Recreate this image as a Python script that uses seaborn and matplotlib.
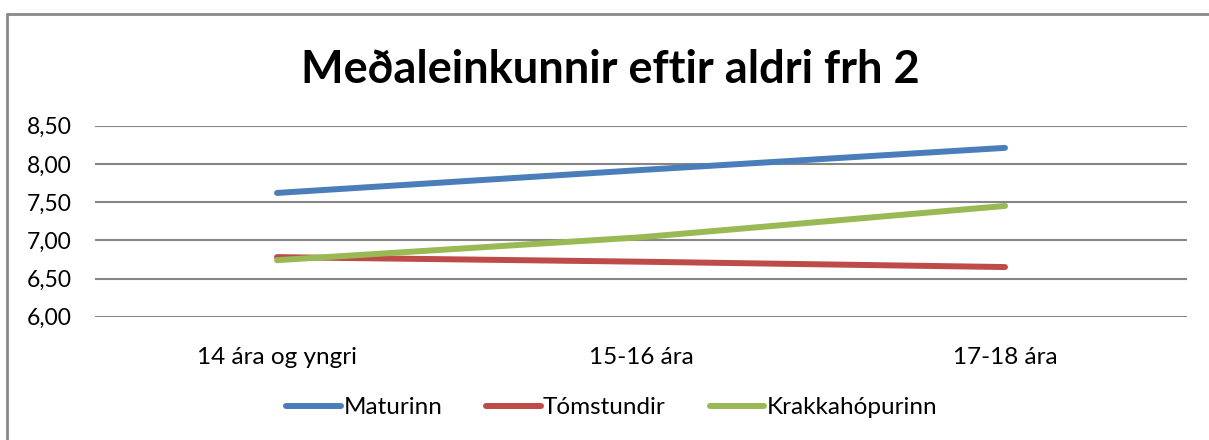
import numpy as np
import pandas as pd
import matplotlib
matplotlib.use("Agg")
import matplotlib.pyplot as plt
import seaborn as sns
from matplotlib.lines import Line2D
from matplotlib.ticker import FuncFormatter

# Data
CATEGORIES = ["14 ára og yngri", "15-16 ára", "17-18 ára"]
MATURINN = [7.62, 7.92, 8.21]
TOMSTUNDIR = [6.78, 6.72, 6.65]
KRAKKAHOPURINN = [6.74, 7.04, 7.45]
SERIES_NAMES = ["Maturinn", "Tómstundir", "Krakkahópurinn"]
SERIES_COLORS = ["#4A7EBB", "#BE4B48", "#98B954"]
Y_TICKS = [6.0, 6.5, 7.0, 7.5, 8.0, 8.5]

df = pd.DataFrame({
    "aldur": CATEGORIES * 3,
    "einkunn": MATURINN + TOMSTUNDIR + KRAKKAHOPURINN,
    "hopur": [n for n in SERIES_NAMES for _ in CATEGORIES],
})

sns.set_theme(style="white")
plt.rcParams["font.family"] = ["Lato", "DejaVu Sans"]
plt.rcParams["text.color"] = "black"

fig = plt.figure(figsize=(12.09, 4.40), dpi=100)
ax = fig.add_axes([0.0786, 0.2802, 0.9032, 0.4341])

sns.lineplot(
    data=df, x="aldur", y="einkunn", hue="hopur",
    palette=SERIES_COLORS, hue_order=SERIES_NAMES,
    linewidth=4.3, sort=False, ax=ax, legend=True,
)
for line in ax.get_lines():
    line.set_solid_capstyle("round")

ax.set_xlim(-0.5, 2.5)
ax.set_ylim(6.0, 8.5)
ax.set_yticks(Y_TICKS)
ax.yaxis.set_major_formatter(FuncFormatter(lambda v, _: f"{v:.2f}".replace(".", ",")))
ax.grid(axis="y", color="#868686", linewidth=1.5)
ax.set_axisbelow(True)
for s in ax.spines.values():
    s.set_visible(False)
ax.tick_params(axis="both", length=0, colors="black")
ax.tick_params(axis="y", pad=17, labelsize=16.5)
ax.tick_params(axis="x", pad=22, labelsize=17.5)
ax.set_xlabel("")
ax.set_ylabel("")

fig.text(0.505, 0.84, "Meðaleinkunnir eftir aldri frh 2", color="black",
         ha="center", va="center", fontsize=32.5, fontweight="bold")

handles = [Line2D([0], [0], color=c, lw=4.3, solid_capstyle="round") for c in SERIES_COLORS]
ax.legend(handles, SERIES_NAMES, loc="center", bbox_to_anchor=(0.506, 0.073),
          bbox_transform=fig.transFigure, ncol=3, frameon=False, fontsize=17.5,
          handlelength=2.25, handletextpad=0.1, columnspacing=1.8)

# Chart border (left and top edges visible)
fig.add_artist(Line2D([7 / 1209, 7 / 1209], [0, 1 - 14 / 440], color="#8a8a8a", lw=2))
fig.add_artist(Line2D([7 / 1209, 1], [1 - 14 / 440, 1 - 14 / 440], color="#8a8a8a", lw=2))

fig.savefig("out.png", dpi=100, facecolor="white")
plt.close(fig)
